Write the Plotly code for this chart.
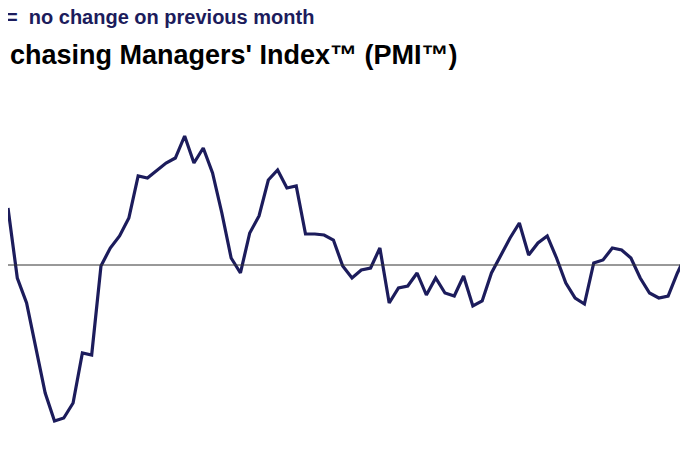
import plotly.graph_objects as go

# monthly PMI readings (visible part of the series)
pmi = [52.85, 49.35, 48.1, 45.85, 43.6, 42.2, 42.35, 43.1, 45.6, 45.5,
       49.95, 50.85, 51.45, 52.35, 54.45, 54.35, 54.75, 55.1, 55.35, 56.45,
       55.1, 55.85, 54.6, 52.6, 50.35, 49.6, 51.6, 52.45, 54.25, 54.75,
       53.85, 53.95, 51.55, 51.55, 51.5, 51.25, 49.95, 49.35, 49.75, 49.85,
       50.85, 48.1, 48.85, 48.95, 49.6, 48.5, 49.35, 48.6, 48.45, 49.45,
       47.95, 48.2, 49.6, 50.45, 51.35, 52.1, 50.5, 51.1, 51.45, 50.35,
       49.1, 48.35, 48.05, 50.1, 50.25, 50.85, 50.75, 50.35, 49.35, 48.6,
       48.35, 48.45, 49.6, 50.6, 51.45]
months = list(range(len(pmi)))

fig = go.Figure(go.Scatter(x=months, y=pmi, mode="lines",
                           line=dict(color="#1c1c5c", width=3.2)))

fig.add_shape(type="line", xref="paper", x0=0, x1=1, yref="y", y0=50, y1=50,
              line=dict(color="#333333", width=1))

fig.add_annotation(text="<b>=  no change on previous month</b>", xref="paper", yref="paper",
                   x=0, y=1, xshift=-4, yshift=4, xanchor="left", yanchor="top", showarrow=False,
                   font=dict(family="Liberation Sans", size=20, color="#1c1c5c"))
fig.add_annotation(text="<b>chasing Managers' Index™ (PMI™)</b>", xref="paper", yref="paper",
                   x=0, y=1, yshift=-30, xanchor="left", yanchor="top", showarrow=False,
                   font=dict(family="Liberation Sans", size=27, color="black"))

fig.update_layout(width=688, height=459,
                  margin=dict(l=0, r=0, t=0, b=0, pad=0, autoexpand=False),
                  plot_bgcolor="white", paper_bgcolor="white", showlegend=False,
                  xaxis=dict(visible=False, range=[0, len(pmi) - 1]),
                  yaxis=dict(visible=False, range=[39.9, 62.85]))

fig.write_html("out.html")
